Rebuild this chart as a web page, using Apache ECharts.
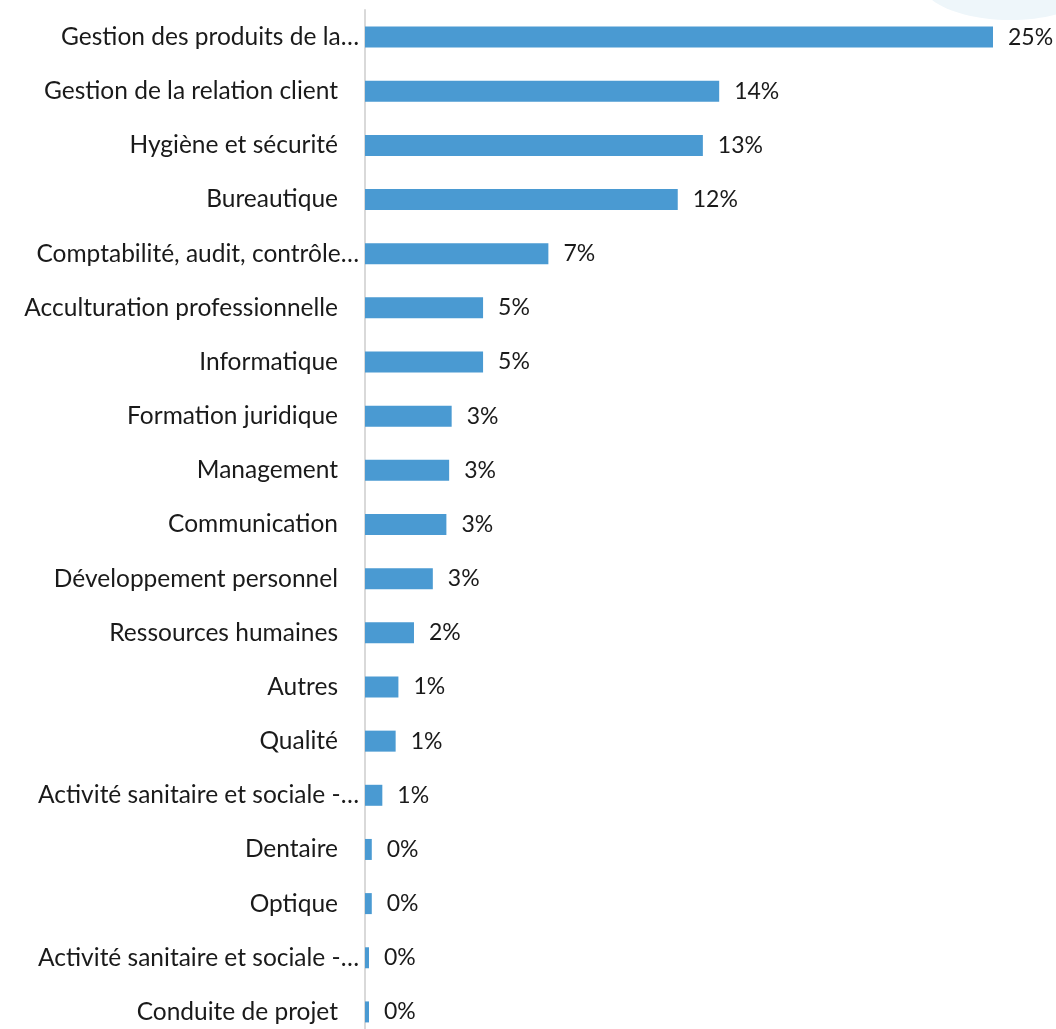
<!DOCTYPE html>
<html>
<head>
<meta charset="utf-8">
<script src="https://cdn.jsdelivr.net/npm/echarts@6/dist/echarts.min.js"></script>
<style>
html,body{margin:0;padding:0;background:#fff;}
#chart{width:1056px;height:1029px;}
</style>
</head>
<body>
<div id="chart"></div>
<script>
const categories = [
  "Gestion des produits de la…",
  "Gestion de la relation client",
  "Hygiène et sécurité",
  "Bureautique",
  "Comptabilité, audit, contrôle…",
  "Acculturation professionnelle",
  "Informatique",
  "Formation juridique",
  "Management",
  "Communication",
  "Développement personnel",
  "Ressources humaines",
  "Autres",
  "Qualité",
  "Activité sanitaire et sociale -…",
  "Dentaire",
  "Optique",
  "Activité sanitaire et sociale -…",
  "Conduite de projet"
];
const values = [25.0, 14.1, 13.45, 12.45, 7.3, 4.7, 4.7, 3.45, 3.35, 3.24, 2.7, 1.95, 1.33, 1.22, 0.69, 0.27, 0.27, 0.16, 0.16];

const chart = echarts.init(document.getElementById('chart'));
const font = 'Lato, "Open Sans", sans-serif';
const fs = 24.5;
const vfs = 23;
chart.setOption({
  backgroundColor: '#ffffff',
  animation: false,
  graphic: [{
    type: 'ellipse',
    shape: { cx: 1010, cy: -20, rx: 90, ry: 40 },
    style: { fill: '#eef6fa' },
    silent: true
  }],
  grid: { left: 365, top: 10, width: 628, height: 1029, containLabel: false, outerBoundsMode: 'none' },
  xAxis: {
    type: 'value', min: 0, max: 25, show: false
  },
  yAxis: {
    type: 'category',
    data: categories,
    inverse: true,
    axisLine: { show: true, lineStyle: { color: '#d9d9d9', width: 2 } },
    axisTick: { show: false },
    axisLabel: {
      margin: 6,
      fontFamily: font,
      fontSize: fs,
      color: '#1a1a1a',
      formatter: function (v) {
        return v.endsWith('…') ? '{a|' + v + '}' : '{b|' + v + '}';
      },
      rich: {
        a: { fontFamily: font, fontSize: fs, color: '#1a1a1a', padding: [0, 0, 0, 0] },
        b: { fontFamily: font, fontSize: fs, color: '#1a1a1a', padding: [0, 21, 0, 0] }
      }
    },
    splitLine: { show: false }
  },
  series: [{
    type: 'bar',
    data: values,
    barWidth: 21,
    itemStyle: { color: '#4a9ad2' },
    label: {
      show: true,
      position: 'right',
      distance: 15,
      fontFamily: font,
      fontSize: vfs,
      color: '#1a1a1a',
      formatter: function (p) { return Math.round(p.value) + '%'; }
    }
  }]
});
</script>
</body>
</html>
